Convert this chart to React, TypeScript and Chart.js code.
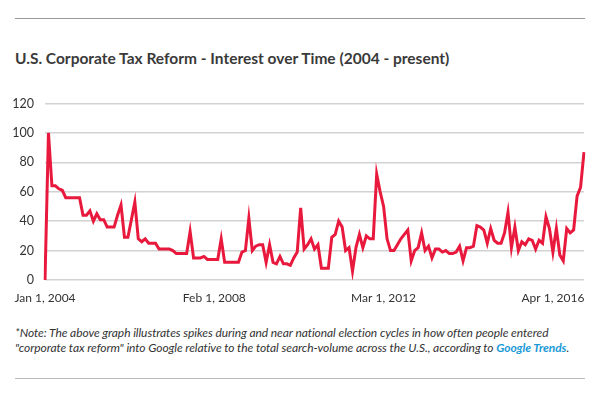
import React, { useEffect, useRef } from "react";
import { Chart, registerables } from "chart.js";

Chart.register(...registerables);

const START_YEAR = 2004;
const MONTHS = ["Jan", "Feb", "Mar", "Apr", "May", "Jun", "Jul", "Aug", "Sep", "Oct", "Nov", "Dec"];

// Google Trends monthly interest, Jan 2004 .. Jan 2017
const interest = [
  0, 100, 64, 64, 62, 61, 56, 56, 56, 56, 56, 44,
  44, 47, 40, 45, 41, 41, 36, 36, 36, 44, 51, 29,
  29, 41, 53, 28, 26, 28, 25, 25, 25, 21, 21, 21,
  21, 20, 18, 18, 18, 18, 33, 15, 15, 15, 16, 14,
  14, 14, 14, 28, 12, 12, 12, 12, 12, 19, 20, 42,
  20, 23, 24, 24, 12, 24, 12, 11, 16, 11, 11, 10,
  15, 19, 49, 21, 24, 28, 21, 24, 8, 8, 8, 29,
  31, 40, 36, 20, 22, 6, 22, 31, 22, 30, 28, 28,
  72, 60, 50, 28, 20, 20, 24, 28, 31, 34, 13, 20,
  22, 32, 20, 23, 15, 21, 21, 19, 20, 18, 18, 19,
  23, 13, 22, 22, 23, 37, 36, 34, 25, 35, 27, 25,
  25, 32, 46, 22, 36, 20, 26, 24, 28, 27, 21, 27,
  25, 43, 35, 19, 35, 17, 13, 35, 32, 34, 57, 63,
  87,
];

const categories = interest.map((_, i) => {
  const y = START_YEAR + Math.floor(i / 12);
  return `${MONTHS[i % 12]} 1, ${y}`;
});

const xTickIndexes = [0, 49, 98, 147];
const yTicks = [0, 20, 40, 60, 80, 100, 120];

const TITLE = "U.S. Corporate Tax Reform - Interest over Time (2004 - present)";

function TrendChart() {
  const ref = useRef<HTMLCanvasElement | null>(null);
  useEffect(() => {
    if (!ref.current) return;
    const chart = new Chart(ref.current, {
      type: "line",
      data: {
        labels: categories,
        datasets: [
          {
            data: interest,
            borderColor: "#e8193c",
            borderWidth: 3,
            pointRadius: 0,
            tension: 0,
            fill: false,
          },
        ],
      },
      options: {
        responsive: false,
        animation: false,
        layout: { padding: { top: 12, right: 16, left: 0, bottom: 0 } },
        plugins: { legend: { display: false }, tooltip: { enabled: false } },
        scales: {
          x: {
            type: "category",
            grid: { display: false, drawTicks: false },
            border: { display: false },
            ticks: {
              autoSkip: false,
              maxRotation: 0,
              minRotation: 0,
              padding: 11,
              color: "#333",
              font: { family: "Lato", size: 12 },
              callback: (_v: any, idx: number) =>
                xTickIndexes.includes(idx) ? categories[idx] : null,
            },
            afterFit: (s: any) => {
              s.height = 30;
            },
          },
          y: {
            min: yTicks[0],
            max: yTicks[yTicks.length - 1],
            grid: { color: "#d2d2d2", lineWidth: 1.5, drawTicks: false },
            border: { display: false },
            ticks: {
              stepSize: 20,
              padding: 11,
              color: "#333",
              font: { family: "Lato", size: 12.5 },
            },
            afterFit: (s: any) => {
              s.width = 45;
            },
          },
        },
      },
    });
    return () => chart.destroy();
  }, []);
  return (
    <canvas
      ref={ref}
      width={600}
      height={225}
      style={{ position: "absolute", left: 0, top: 85, width: 600, height: 225 }}
    />
  );
}

export default function App() {
  return (
    <div
      style={{
        position: "absolute",
        left: 0,
        top: 0,
        width: 600,
        height: 394,
        background: "#fff",
        overflow: "hidden",
        fontFamily: "Lato, 'Open Sans', sans-serif",
      }}
    >
      <div style={{ position: "absolute", left: 15, top: 18, width: 570, height: 1, background: "#999" }} />
      <div
        style={{
          position: "absolute",
          left: 15,
          top: 47,
          fontSize: 15.5,
          fontWeight: 700,
          color: "#3a3a3a",
          whiteSpace: "nowrap",
          lineHeight: "22px",
        }}
      >
        {TITLE}
      </div>
      <TrendChart />
      <div
        style={{
          position: "absolute",
          left: 15,
          top: 325,
          fontSize: 12,
          letterSpacing: "-0.07px",
          fontStyle: "italic",
          color: "#333",
          lineHeight: "15px",
          whiteSpace: "nowrap",
        }}
      >
        <div>*Note: The above graph illustrates spikes during and near national election cycles in how often people entered</div>
        <div>
          "corporate tax reform" into Google relative to the total search-volume across the U.S., according to{" "}
          <span style={{ color: "#1a9ad6", fontWeight: 700 }}>Google Trends</span>.
        </div>
      </div>
      <div style={{ position: "absolute", left: 15, top: 378, width: 570, height: 1, background: "#bbb" }} />
    </div>
  );
}
